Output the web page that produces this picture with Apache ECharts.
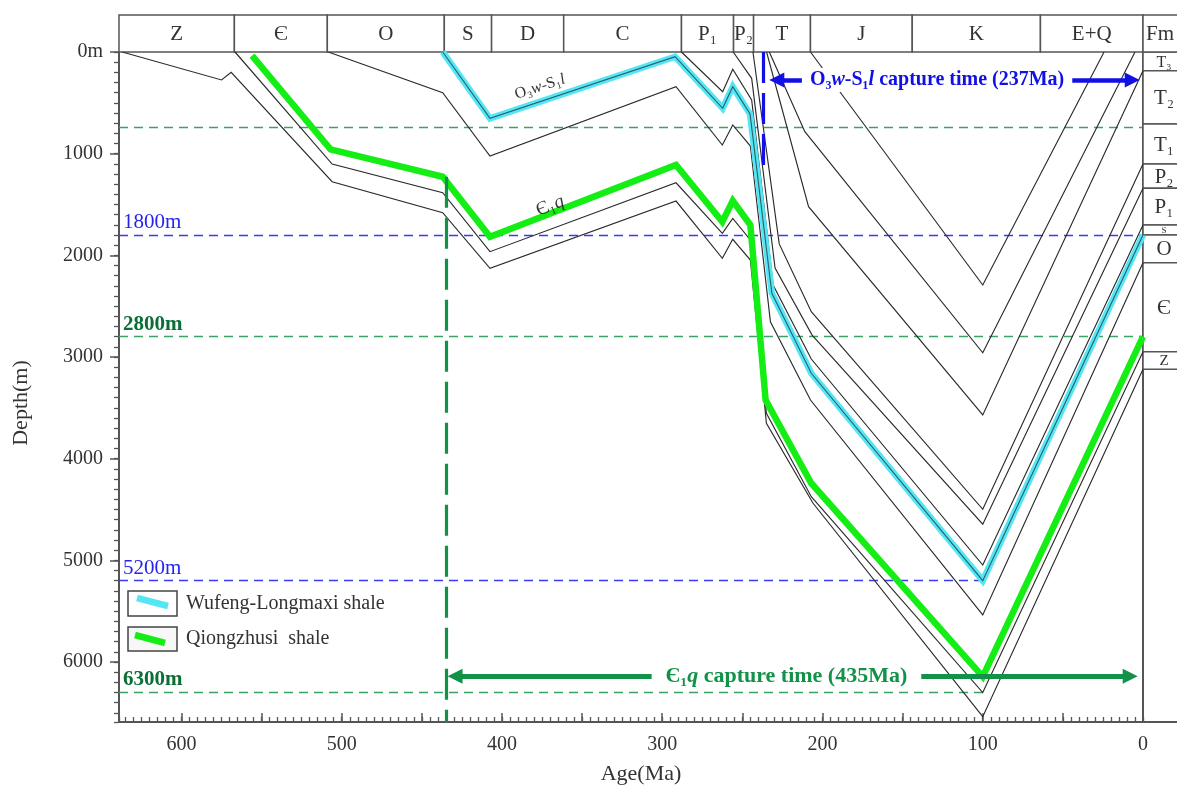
<!DOCTYPE html>
<html>
<head>
<meta charset="utf-8">
<script src="https://cdn.jsdelivr.net/npm/echarts@6/dist/echarts.min.js"></script>
<style>
html,body{margin:0;padding:0;background:#ffffff;}
#chart{width:1177px;height:785px;}
</style>
</head>
<body>
<div id="chart"></div>
<script>
// ---------- data (age in Ma, depth in m) ----------
const periodNames  = ['Z','Є','O','S','D','C','P₁','P₂','T','J','K','E+Q'];
const periodBounds = [639,567,509,436,406.5,361.5,288,255.5,243,207.5,144,64,0];

const fmNames  = ['T₃','T₂','T₁','P₂','P₁','S','O','Є','Z'];
const fmBounds = [0,184,708,1102,1341,1702,1800,2072,2948,3121];

// burial curves of stratum boundaries
const zBase      = [[637,0],[575,275],[569,200],[506,1276],[437,1581],[407.5,2127],[291.4,1466],[262.5,2029],[256,1842],[245,2046],[235,3652],[206,4436],[100,6538],[0,3121]];
const cambBase   = [[566.6,0],[506,1102],[437,1384],[407.5,1964],[291.4,1286],[262.5,1783],[256,1636],[245,1849],[235,3554],[207,4374],[100,6300],[0,2948]];
const ordBase    = [[508.4,0],[437,400],[407.5,1023],[291.4,341],[262.5,915],[256,718],[245,925],[232.5,2653],[207.5,3423],[100,5537],[0,2072]];
const p1Base     = [[288,0],[262.3,390],[256,170],[244.2,472],[230.8,2292],[207,3020],[100,5046],[0,1702]];
const p2Base     = [[255.7,0],[244.2,259],[229.6,2125],[206.5,2784],[100,4645],[0,1341]];
const t1Base     = [[243.4,0],[227,1888],[207,2554],[100,4498],[0,1102]];
const t3Base     = [[234.9,0],[208.7,1522],[100,3570],[0,184]];
const jLower     = [[233.2,0],[211,784],[100,2958],[5,0]];
const jBase      = [[207.5,0],[100,2292],[24.3,0]];
// shale burial curves
const wufengLongmaxi = [[437,0],[407.5,652],[292,46],[262.3,554],[256,341],[245.2,610],[231.6,2373],[207,3160],[100,5200],[0,1800]];
const qiongzhusi     = [[556,36],[507,957],[437,1227],[407.5,1817],[291.4,1111],[262.5,1669],[256,1463],[245,1702],[235.5,3423],[207,4242],[100,6144],[0,2800]];

// reference depth lines
const refDepths  = [740,1800,2800,5200,6300];
const refEndAges = [0,0,0,100,100];
const refLabels  = ['','1800m','2800m','5200m','6300m'];

// capture times
const captureAges   = [435,237];
const captureTops   = [1227,0];
const captureBottoms= [6590,1177];
const arrowDepths   = [6140,275];

// ---------- chart ----------
const FONT = '"Liberation Serif","Times New Roman",serif';
const AX = '#555';
const AGE_MAX = 639, DEPTH_MAX = 6590;
const GREEN_D = '#3aa362', BLUE_D = '#3a3af5';
const GREEN_T = '#0b6e36', BLUE_T = '#2424ee';
const ARROW_G = '#129148', ARROW_B = '#1111e6';

const chart = echarts.init(document.getElementById('chart'), null, {renderer:'canvas'});

function curve(data, color, width, z){
  return {type:'line', xAxisIndex:0, yAxisIndex:0, data:data, symbol:'none', silent:true, z:z,
    lineStyle:{color:color, width:width, join:'miter', miterLimit:6}, animation:false, clip:true};
}

const blackLines = [zBase, cambBase, ordBase, p1Base, p2Base, t1Base, t3Base, jLower, jBase];

function renderPeriod(params, api){
  const i = api.value(2);
  const a = api.coord([api.value(0), 1]);
  const b = api.coord([api.value(1), 0]);
  const x = Math.min(a[0], b[0]), w = Math.abs(b[0]-a[0]);
  const y = Math.min(a[1], b[1]), h = Math.abs(b[1]-a[1]);
  return {type:'group', children:[
    {type:'rect', shape:{x:x, y:y, width:w, height:h}, style:{fill:'#fff', stroke:AX, lineWidth:1.5}},
    {type:'text', style:{text:periodNames[i], x:x+w/2, y:y+h/2+1, align:'center', verticalAlign:'middle',
      font:'21px ' + FONT, fill:'#333'}}
  ]};
}
function renderFm(params, api){
  const i = api.value(2);
  const a = api.coord([0, api.value(0)]);
  const b = api.coord([1, api.value(1)]);
  const x = Math.min(a[0], b[0]), w = Math.abs(b[0]-a[0]);
  const y = Math.min(a[1], b[1]), h = Math.abs(b[1]-a[1]);
  const fs = Math.min(21, Math.max(9, h*0.85));
  return {type:'group', children:[
    {type:'rect', shape:{x:x, y:y, width:w, height:h}, style:{fill:'#fff', stroke:AX, lineWidth:1.5}},
    {type:'text', style:{text:fmNames[i], x:x+w/2, y:y+h/2+1, align:'center', verticalAlign:'middle',
      font:fs.toFixed(1)+'px ' + FONT, fill:'#333'}}
  ]};
}

const refLineData = refDepths.map(function(d, i){
  const green = (i % 2 === 0);
  const col = green ? GREEN_D : BLUE_D;
  return [
    {coord:[AGE_MAX, d], symbol:'none',
     lineStyle:{color:col, width:1.4, type:[9,6]},
     label:{show: refLabels[i] !== '', formatter: refLabels[i], position:'insideStartTop', distance:[4,2],
       color: green ? GREEN_T : BLUE_T, fontFamily:FONT, fontSize:21, fontWeight: green ? 'bold' : 'normal'}},
    {coord:[refEndAges[i], d], symbol:'none'}
  ];
});

const captureColors = [ARROW_G, ARROW_B];
const captureLineData = captureAges.map(function(a, i){
  return [
    {coord:[a, captureTops[i]], symbol:'none', lineStyle:{color:captureColors[i], width:3.2, type:[31,10]}, label:{show:false}},
    {coord:[a, captureBottoms[i]], symbol:'none'}
  ];
});
// arrow shafts (triangle heads just inside the capture interval)
const arrowSeg = [
  [[captureAges[0]-5.7, arrowDepths[0]], [8, arrowDepths[0]], ARROW_G, 5.2],
  [[captureAges[1]-8.5, arrowDepths[1]], [6.7, arrowDepths[1]], ARROW_B, 4.6]
];
const arrowData = arrowSeg.map(function(s){
  return [
    {coord:s[0], symbol:'triangle', symbolSize:[15,15], lineStyle:{color:s[2], width:s[3], type:'solid'}, itemStyle:{color:s[2]}, label:{show:false}},
    {coord:s[1], symbol:'triangle', symbolSize:[15,15], itemStyle:{color:s[2]}}
  ];
});

const richBase = function(size, color, weight){
  return {
    n:{fontFamily:FONT, fontSize:size, color:color, fontWeight:weight},
    i:{fontFamily:FONT, fontSize:size, color:color, fontWeight:weight, fontStyle:'italic'}
  };
};

const textPoints = [
  {coord:[376.3, 344], symbolSize:1, itemStyle:{color:'rgba(0,0,0,0)'},
   label:{show:true, position:'inside', rotate:18, formatter:'{n|O₃}{i|w}{n|-S₁}{i|l}', rich:richBase(16,'#333','normal')}},
  {coord:[370, 1515], symbolSize:1, itemStyle:{color:'rgba(0,0,0,0)'},
   label:{show:true, position:'inside', rotate:22, formatter:'{n|Є₁}{i|q}', rich:richBase(19,'#333','normal')}},
  {coord:[222.5, arrowDepths[0]], symbolSize:1, itemStyle:{color:'rgba(0,0,0,0)'},
   label:{show:true, position:'inside', backgroundColor:'#fff', padding:[2,14], formatter:'{n|Є₁}{i|q}{n| capture time (435Ma)}', rich:richBase(22,ARROW_G,'bold')}},
  {coord:[128.5, arrowDepths[1]], symbolSize:1, itemStyle:{color:'rgba(0,0,0,0)'},
   label:{show:true, position:'inside', backgroundColor:'#fff', padding:[2,8], formatter:'{n|O₃}{i|w}{n|-S₁}{i|l}{n| capture time (237Ma)}', rich:richBase(20,ARROW_B,'bold')}}
];

const series = [];
series.push({type:'line', xAxisIndex:0, yAxisIndex:0, data:[], z:2, silent:true, animation:false,
  markLine:{silent:true, symbol:'none', z:2, animation:false, data:refLineData}});
blackLines.forEach(function(d){ series.push(curve(d, '#2b2b2b', 1.15, 3)); });
series.push(curve(wufengLongmaxi, '#55e6f6', 6.5, 4));
series.push(curve(wufengLongmaxi, '#2b5f66', 1.1, 5));
series.push(curve(qiongzhusi, '#14ee14', 6.5, 6));
series.push({type:'line', xAxisIndex:0, yAxisIndex:0, data:[], z:8, silent:true, animation:false,
  markLine:{silent:true, symbol:'none', z:8, animation:false, data:captureLineData.concat(arrowData)},
  markPoint:{silent:true, z:9, animation:false, symbol:'circle', data:textPoints}});
series.push({type:'custom', xAxisIndex:2, yAxisIndex:3, renderItem:renderPeriod, silent:true, animation:false,
  data: periodNames.map(function(n,i){ return [periodBounds[i], periodBounds[i+1], i]; })});
series.push({type:'custom', xAxisIndex:3, yAxisIndex:4, renderItem:renderFm, silent:true, animation:false,
  data: fmNames.map(function(n,i){ return [fmBounds[i], fmBounds[i+1], i]; })});
// empty series keeping the minor-tick grid alive
series.push({type:'line', xAxisIndex:1, yAxisIndex:1, data:[], silent:true, animation:false});

const option = {
  backgroundColor:'#ffffff',
  animation:false,
  grid:[
    {left:119, top:52, width:1024, height:670, outerBoundsMode:'none'},
    {left:119, top:15, width:1024, height:37, outerBoundsMode:'none'},
    {left:1143, top:15, width:42, height:37, outerBoundsMode:'none'},
    {left:1143, top:52, width:42, height:670, outerBoundsMode:'none'},
    {left:119, top:52, width:1024, height:670, outerBoundsMode:'none'}
  ],
  xAxis:[
    {type:'value', gridIndex:0, position:'bottom', min:0, max:AGE_MAX, inverse:true, interval:50,
     axisLine:{show:true, onZero:false, lineStyle:{color:AX, width:2}},
     axisTick:{show:true, inside:true, length:9, lineStyle:{color:AX, width:1.5}},
     minorTick:{show:false}, splitLine:{show:false},
     axisLabel:{margin:13, color:'#333', fontFamily:FONT, fontSize:20,
       formatter:function(v){ return (v % 100 === 0) ? String(v) : ''; }}},
    {type:'value', gridIndex:4, position:'bottom', min:0, max:AGE_MAX, inverse:true, interval:5,
     axisLine:{show:false, onZero:false}, axisTick:{show:true, inside:true, length:5, lineStyle:{color:AX, width:1.3}},
     axisLabel:{show:false}, splitLine:{show:false}},
    {type:'value', gridIndex:1, min:0, max:AGE_MAX, inverse:true, show:false},
    {type:'value', gridIndex:3, min:0, max:1, position:'bottom',
     axisLine:{show:true, onZero:false, lineStyle:{color:AX, width:2}}, axisTick:{show:false}, axisLabel:{show:false}, splitLine:{show:false}}
  ],
  yAxis:[
    {type:'value', gridIndex:0, position:'left', min:0, max:DEPTH_MAX, inverse:true, interval:1000,
     axisLine:{show:true, onZero:false, lineStyle:{color:AX, width:2}},
     axisTick:{show:true, inside:false, length:9, lineStyle:{color:AX, width:1.5}},
     splitLine:{show:false}, minorTick:{show:false},
     axisLabel:{margin:16, color:'#333', fontFamily:FONT, fontSize:20, showMaxLabel:false,
       formatter:function(v){ if (v === 0) return '0m'; return (v % 1000 === 0) ? String(v) : ''; }}},
    {type:'value', gridIndex:4, position:'left', min:0, max:DEPTH_MAX, inverse:true, interval:100,
     axisLine:{show:false, onZero:false}, axisTick:{show:true, inside:false, length:5, lineStyle:{color:AX, width:1.3}},
     axisLabel:{show:false}, splitLine:{show:false}},
    {type:'value', gridIndex:0, position:'right', min:0, max:DEPTH_MAX, inverse:true,
     axisLine:{show:true, onZero:false, lineStyle:{color:AX, width:2}}, axisTick:{show:false}, axisLabel:{show:false}, splitLine:{show:false}},
    {type:'value', gridIndex:1, min:0, max:1, show:false},
    {type:'value', gridIndex:3, min:0, max:DEPTH_MAX, inverse:true, show:false}
  ],
  series: series,
  graphic:[
    {type:'rect', shape:{x:1143, y:15, width:42, height:37}, style:{fill:'#fff', stroke:AX, lineWidth:1.5}, z:10},
    {type:'text', style:{text:'Fm', x:1146, y:34, verticalAlign:'middle', font:'21px ' + FONT, fill:'#333'}, z:11},
    {type:'text', rotation:Math.PI/2, x:21, y:403, style:{text:'Depth(m)', align:'center', verticalAlign:'middle', font:'22px ' + FONT, fill:'#333'}, z:11},
    {type:'text', x:641, y:774, style:{text:'Age(Ma)', align:'center', verticalAlign:'middle', font:'22px ' + FONT, fill:'#333'}, z:11},
    // legend
    {type:'rect', shape:{x:128, y:591, width:49, height:25}, style:{fill:'#fff', stroke:'#444', lineWidth:1.5}, z:10},
    {type:'line', shape:{x1:137, y1:598, x2:168, y2:606}, style:{stroke:'#55e6f6', lineWidth:6.5}, z:11},
    {type:'text', style:{text:'Wufeng-Longmaxi shale', x:186, y:604, verticalAlign:'middle', font:'20px ' + FONT, fill:'#333'}, z:11},
    {type:'rect', shape:{x:128, y:627, width:49, height:24}, style:{fill:'#f7f7f7', stroke:'#444', lineWidth:1.5}, z:10},
    {type:'line', shape:{x1:135, y1:635, x2:165, y2:643}, style:{stroke:'#14ee14', lineWidth:6.5}, z:11},
    {type:'text', style:{text:'Qiongzhusi  shale', x:186, y:639, verticalAlign:'middle', font:'20px ' + FONT, fill:'#333'}, z:11}
  ]
};
chart.setOption(option);
</script>
</body>
</html>
